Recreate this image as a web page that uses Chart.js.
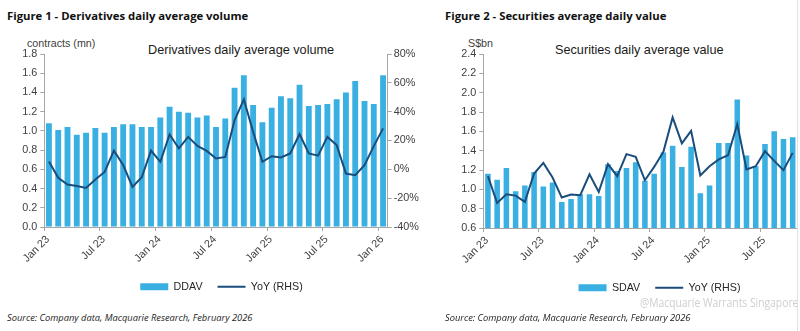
<!DOCTYPE html>
<html>
<head>
<meta charset="utf-8">
<script src="https://cdn.jsdelivr.net/npm/chart.js@4.4.1/dist/chart.umd.min.js"></script>
<style>
  body { margin:0; width:800px; height:331px; overflow:hidden; background:#fff; position:relative; font-family:"Liberation Sans", Arial, sans-serif; }
  .t { position:absolute; white-space:nowrap; line-height:1; }
  .fig { font-family:"Open Sans"; font-weight:700; font-size:11.3px; color:#111; top:10px; }
  .unit { font-size:10.7px; color:#404040; top:38px; }
  .ctitle { font-size:12.7px; color:#1a1a1a; top:44px; }
  .src { font-family:"Open Sans"; font-style:italic; font-size:9.3px; color:#222; top:313px; }
  .wm { font-family:"Open Sans"; font-size:12px; color:#cfcfcf; top:297px; left:640px; transform:scaleX(0.86); transform-origin:left top; }
  canvas { position:absolute; top:0; }
  .edge { position:absolute; left:797px; top:0; width:1px; height:331px; background:#e2e2e2; }
</style>
</head>
<body>
<div class="t fig" style="left:7px">Figure 1 - Derivatives daily average volume</div>
<div class="t fig" style="left:445px">Figure 2 - Securities average daily value</div>
<div class="t unit" style="left:27px">contracts (mn)</div>
<div class="t unit" style="left:468px">S$bn</div>
<div class="t ctitle" style="left:148px">Derivatives daily average volume</div>
<div class="t ctitle" style="left:555px">Securities daily average value</div>

<canvas id="c1" width="443" height="302" style="left:0px"></canvas>
<canvas id="c2" width="459" height="303" style="left:430px"></canvas>

<div class="t src" style="left:7px">Source: Company data, Macquarie Research, February 2026</div>
<div class="t src" style="left:445px">Source: Company data, Macquarie Research, February 2026</div>
<div class="t wm">@Macquarie Warrants Singapore</div>
<div class="edge"></div>

<script>
// months Jan 23 - Jan 26
var months1 = ['Jan 23','Feb 23','Mar 23','Apr 23','May 23','Jun 23','Jul 23','Aug 23','Sep 23','Oct 23','Nov 23','Dec 23',
               'Jan 24','Feb 24','Mar 24','Apr 24','May 24','Jun 24','Jul 24','Aug 24','Sep 24','Oct 24','Nov 24','Dec 24',
               'Jan 25','Feb 25','Mar 25','Apr 25','May 25','Jun 25','Jul 25','Aug 25','Sep 25','Oct 25','Nov 25','Dec 25','Jan 26'];
// derivatives daily average volume, contracts (mn)
var ddav = [1.08,1.01,1.04,0.96,0.98,1.03,0.98,1.04,1.07,1.07,1.04,1.04,
            1.14,1.25,1.20,1.19,1.14,1.16,1.04,1.13,1.45,1.58,1.27,1.09,
            1.24,1.36,1.34,1.48,1.26,1.27,1.28,1.33,1.40,1.52,1.31,1.28,1.58];
// YoY %, right axis
var ddavYoy = [5.5,-5.8,-10.5,-11.5,-12.9,-7,-1.8,13,3,-12.2,-5.5,13,
               5.2,24.2,14.5,22.5,16.2,12.8,7.5,8.6,34,48.5,26,5.2,
               9.1,8.2,11,24.4,11,9.5,22.5,16.8,-2.9,-4.1,2.9,16.1,28.4];

// months Jan 23 - Oct 25 (right side of figure 2 is cut off)
var months2 = months1.slice(0, 34);
// securities daily average value, S$bn
var sdav = [1.16,1.10,1.22,0.98,1.04,1.18,1.03,1.07,0.87,0.90,0.95,0.95,
            0.93,1.26,1.19,1.22,1.28,1.09,1.16,1.38,1.45,1.23,1.44,0.96,
            1.04,1.48,1.48,1.93,1.35,1.24,1.47,1.60,1.52,1.54];
// YoY %, hidden right axis
var sdavYoy = [-6.4,-34.1,-25.1,-26.5,-33,-3.6,7.4,-7.8,-28.5,-25.4,-26.1,-4.4,
               -22.7,6,-6.4,16.4,13.6,-10.6,3.2,18.8,54.4,27.5,40.5,-5.7,
               3.9,10.9,15.3,47.5,0.5,3.9,19.5,9.4,-0.2,17.7];

var BAR = '#3AAFE1';
var LINE = '#1A4C7C';
var AXIS = '#A6A6A6';
var TXT = '#404040';
var tickFont = { family: 'Liberation Sans', size: 10.8 };

function xAxis(h) {
  return {
    offset: true,
    grid: {
      offset: true, drawOnChartArea: false, tickLength: 4, color: AXIS,
      tickColor: function (c) { return c.index % 6 === 0 ? AXIS : 'rgba(0,0,0,0)'; }
    },
    border: { color: AXIS },
    ticks: {
      autoSkip: false, minRotation: 45, maxRotation: 45, padding: 2, labelOffset: -1,
      color: TXT, font: tickFont,
      callback: function (v, i) { return i % 6 === 0 ? this.getLabelForValue(v) : ''; }
    },
    afterFit: function (s) { s.height = h; }
  };
}

function legendOpts() {
  return {
    position: 'bottom',
    labels: {
      usePointStyle: true, pointStyleWidth: 28, boxHeight: 7, padding: 15,
      color: '#262626', font: { family: 'Liberation Sans', size: 10.7 },
      sort: function (a, b) { return a.datasetIndex - b.datasetIndex; },
      generateLabels: function (chart) {
        return Chart.defaults.plugins.legend.labels.generateLabels(chart).map(function (l) {
          l.pointStyle = l.datasetIndex === 0 ? 'rect' : 'line';
          return l;
        });
      }
    }
  };
}

new Chart(document.getElementById('c1'), {
  type: 'bar',
  data: {
    labels: months1,
    datasets: [
      { label: 'DDAV', data: ddav, backgroundColor: BAR, borderWidth: 0,
        categoryPercentage: 1, barPercentage: 0.63, order: 1, yAxisID: 'y' },
      { type: 'line', label: 'YoY (RHS)', data: ddavYoy, borderColor: LINE, backgroundColor: LINE,
        borderWidth: 2, pointRadius: 0, tension: 0, order: 0, yAxisID: 'y1' }
    ]
  },
  options: {
    responsive: false, animation: false,
    layout: { padding: { top: 54, left: 0, right: 0, bottom: 0 } },
    plugins: { legend: legendOpts(), tooltip: { enabled: false } },
    scales: {
      x: xAxis(39.3),
      y: {
        min: 0, max: 1.8,
        ticks: { stepSize: 0.2, color: TXT, font: tickFont, padding: 3,
                 callback: function (v) { return v.toFixed(1); } },
        grid: { drawOnChartArea: false, tickLength: 4, color: AXIS },
        border: { color: AXIS },
        afterFit: function (s) { s.width = 44.3; }
      },
      y1: {
        position: 'right', min: -40, max: 80,
        ticks: { stepSize: 20, color: TXT, font: tickFont, padding: 2,
                 callback: function (v) { return v + '%'; } },
        grid: { drawOnChartArea: false, tickLength: 4, color: AXIS },
        border: { color: AXIS },
        afterFit: function (s) { s.width = 55.3; }
      }
    }
  }
});

new Chart(document.getElementById('c2'), {
  type: 'bar',
  data: {
    labels: months2,
    datasets: [
      { label: 'SDAV', data: sdav, backgroundColor: BAR, borderWidth: 0,
        categoryPercentage: 1, barPercentage: 0.6, order: 1, yAxisID: 'y' },
      { type: 'line', label: 'YoY (RHS)', data: sdavYoy, borderColor: LINE, backgroundColor: LINE,
        borderWidth: 2, pointRadius: 0, tension: 0, order: 0, yAxisID: 'y1' }
    ]
  },
  options: {
    responsive: false, animation: false,
    layout: { padding: { top: 54, left: 0, right: 0, bottom: 0 } },
    plugins: { legend: legendOpts(), tooltip: { enabled: false } },
    scales: {
      x: xAxis(39.3),
      y: {
        min: 0.6, max: 2.4,
        ticks: { stepSize: 0.2, color: TXT, font: tickFont, padding: 3,
                 callback: function (v) { return v.toFixed(1); } },
        grid: { drawOnChartArea: false, tickLength: 4, color: AXIS },
        border: { color: AXIS },
        afterFit: function (s) { s.width = 53.3; }
      },
      y1: {
        position: 'right', min: -60, max: 120,
        ticks: { display: false },
        grid: { display: false },
        border: { display: false },
        afterFit: function (s) { s.width = 91.7; }
      }
    }
  }
});
</script>
</body>
</html>
